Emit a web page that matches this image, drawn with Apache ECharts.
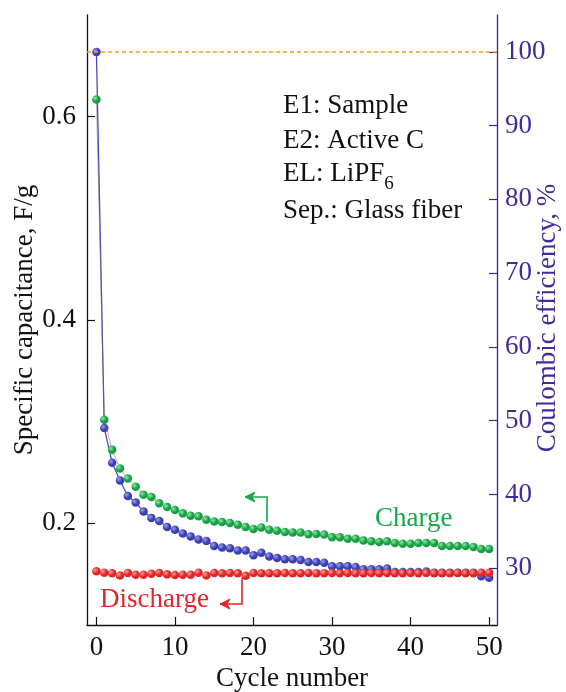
<!DOCTYPE html>
<html><head><meta charset="utf-8">
<script src="https://cdn.jsdelivr.net/npm/echarts@6/dist/echarts.min.js"></script>
<style>html,body{margin:0;padding:0;background:#fff}#c{width:566px;height:692px}</style>
</head><body><div id="c"></div>
<script>
// ---- data ----
const cycles = [0,1,2,3,4,5,6,7,8,9,10,11,12,13,14,15,16,17,18,19,20,21,22,23,24,25,26,27,28,29,30,31,32,33,34,35,36,37,38,39,40,41,42,43,44,45,46,47,48,49,50];
const chargeCap = [0.617,0.302,0.2725,0.254,0.244,0.236,0.228,0.226,0.2197,0.216,0.213,0.2098,0.2075,0.2069,0.2036,0.2019,0.2014,0.2004,0.1987,0.1964,0.1945,0.1960,0.1938,0.1928,0.1915,0.1911,0.1911,0.1892,0.1896,0.1889,0.1862,0.1862,0.1849,0.1849,0.1830,0.1823,0.1817,0.1823,0.1807,0.1800,0.1800,0.1807,0.1807,0.1807,0.1778,0.1778,0.1778,0.1778,0.1768,0.1748,0.1748];
const dischargeCap = [0.1528,0.1515,0.1508,0.1488,0.1512,0.1495,0.1495,0.1505,0.1512,0.1498,0.1492,0.1495,0.1495,0.1515,0.1488,0.1512,0.1508,0.1512,0.1508,0.1485,0.1512,0.1510,0.1508,0.1510,0.1512,0.1508,0.1510,0.1512,0.1510,0.1510,0.1512,0.1510,0.1512,0.1510,0.1510,0.1512,0.1510,0.1512,0.1510,0.1510,0.1512,0.1510,0.1512,0.1510,0.1510,0.1510,0.1512,0.1510,0.1510,0.1515,0.1515];
const efficiency = [100,49.0,44.3,41.9,39.8,38.9,37.7,36.8,36.4,35.6,35.2,34.7,34.3,33.9,33.7,33.0,32.8,32.7,32.4,32.4,31.75,32.1,31.6,31.4,31.2,31.2,31.1,30.85,30.85,30.75,30.25,30.25,30.25,30.15,29.85,29.85,29.85,29.95,29.5,29.5,29.5,29.5,29.55,29.4,29.4,29.4,29.4,29.4,29.4,28.9,28.7];
const refEfficiency = 100;
const xTicks = [0,10,20,30,40,50];
const leftTicks = [0.2,0.4,0.6];
const rightTicks = [30,40,50,60,70,80,90,100];
const notes = ['E1: Sample','E2: Active C','EL: LiPF','Sep.: Glass fiber'];
const noteSub = '6';

// ---- styling ----
const FONT = 'Liberation Serif';
const FS = 27;
const PURPLE = '#3a2f98';
function ball(light, dark){
  return {type:'radial',x:0.35,y:0.35,r:0.75,colorStops:[{offset:0,color:light},{offset:0.55,color:dark},{offset:1,color:dark}]};
}
const pair = arr => arr.map((v,i)=>[cycles[i],v]);
function textWidth(t, size){
  const ctx = document.createElement('canvas').getContext('2d');
  ctx.font = size + 'px "' + FONT + '"';
  return ctx.measureText(t).width;
}

const chart = echarts.init(document.getElementById('c'), null, {renderer:'canvas'});
const green = '#17a84a', red = '#e3262a';
function arrow(pts, color){
  const head = pts[pts.length-1];
  return [
    {type:'polyline', shape:{points:pts}, style:{stroke:color, lineWidth:1.6, fill:null}, z:100},
    {type:'polygon', shape:{points:[[head[0],head[1]],[head[0]+10,head[1]-5],[head[0]+7,head[1]],[head[0]+10,head[1]+5]]}, style:{fill:color, stroke:color, lineWidth:1}, z:100}
  ];
}
const T = (text, x, y, size, color) => ({type:'text', x:x, y:y, z:100,
  style:{text:text, font: size+'px "'+FONT+'"', fill:color, textAlign:'left', textVerticalAlign:'middle'}});

const noteX = 283;
const graphics = [
  T(notes[0], noteX, 106, FS, '#111'),
  T(notes[1], noteX, 141, FS, '#111'),
  T(notes[2], noteX, 174, FS, '#111'),
  T(noteSub, noteX + textWidth(notes[2], FS), 184, 19, '#111'),
  T(notes[3], noteX, 211, FS, '#111'),
  T('Charge', 375, 519, FS, green),
  T('Discharge', 100, 600, FS, red),
  {type:'text', x:25, y:320, rotation:Math.PI/2, z:100, style:{text:'Specific capacitance, F/g', font:FS+'px "'+FONT+'"', fill:'#111', textAlign:'center', textVerticalAlign:'middle'}},
  {type:'text', x:548, y:318, rotation:Math.PI/2, z:100, style:{text:'Coulombic efficiency, %', font:FS+'px "'+FONT+'"', fill:PURPLE, textAlign:'center', textVerticalAlign:'middle'}},
  {type:'text', x:292, y:679, z:100, style:{text:'Cycle number', font:FS+'px "'+FONT+'"', fill:'#111', textAlign:'center', textVerticalAlign:'middle'}}
].concat(arrow([[267,522],[267,497],[245,497]], green))
 .concat(arrow([[242,578],[242,604],[220,604]], red));

chart.setOption({
  animation:false,
  backgroundColor:'#fff',
  grid:{left:87, right:69, top:15, bottom:67, containLabel:false},
  xAxis:{type:'value', min:-1.2, max:51,
    axisLine:{show:true, onZero:false, lineStyle:{color:'#111', width:1.3}},
    axisTick:{show:true, inside:true, length:8, customValues:xTicks, lineStyle:{color:'#111', width:1.2}},
    axisLabel:{customValues:xTicks, fontFamily:FONT, fontSize:FS, color:'#111', margin:9},
    splitLine:{show:false}},
  yAxis:[
    {type:'value', position:'left', min:0.1, max:0.7,
      axisLine:{show:true, onZero:false, lineStyle:{color:'#111', width:1.3}},
      axisTick:{show:true, inside:true, length:8, customValues:leftTicks, lineStyle:{color:'#111', width:1.2}},
      axisLabel:{customValues:leftTicks, formatter:v=>v.toFixed(1), fontFamily:FONT, fontSize:FS, color:'#111', margin:11},
      splitLine:{show:false}},
    {type:'value', position:'right', min:22.3, max:105,
      axisLine:{show:true, onZero:false, lineStyle:{color:'#2e2a90', width:1.3}},
      axisTick:{show:true, inside:true, length:8, customValues:rightTicks, lineStyle:{color:'#2e2a90', width:1.2}},
      axisLabel:{customValues:rightTicks, fontFamily:FONT, fontSize:FS, color:PURPLE, margin:8},
      splitLine:{show:false}}
  ],
  series:[
    {name:'Efficiency', type:'line', yAxisIndex:1, data:pair(efficiency), symbol:'circle', symbolSize:8.5,
      itemStyle:{color:ball('#9a9cf0','#3a3db0')}, lineStyle:{color:'#4b4cc4', width:1.3}, z:3,
      markLine:{silent:true, symbol:'none', label:{show:false}, lineStyle:{color:'#f5a016', type:[4,3], width:1.6},
        data:[{yAxis:refEfficiency}]}},
    {name:'Charge', type:'line', yAxisIndex:0, data:pair(chargeCap), symbol:'circle', symbolSize:8.5,
      itemStyle:{color:ball('#8ee6a0','#14a043')}, lineStyle:{color:'#6b6b55', width:1, type:'dotted'}, z:4},
    {name:'Discharge', type:'line', yAxisIndex:0, data:pair(dischargeCap), symbol:'circle', symbolSize:8.5,
      itemStyle:{color:ball('#ff9a9a','#e02424')}, lineStyle:{width:0, opacity:0}, z:5}
  ],
  graphic:graphics
});
</script></body></html>
